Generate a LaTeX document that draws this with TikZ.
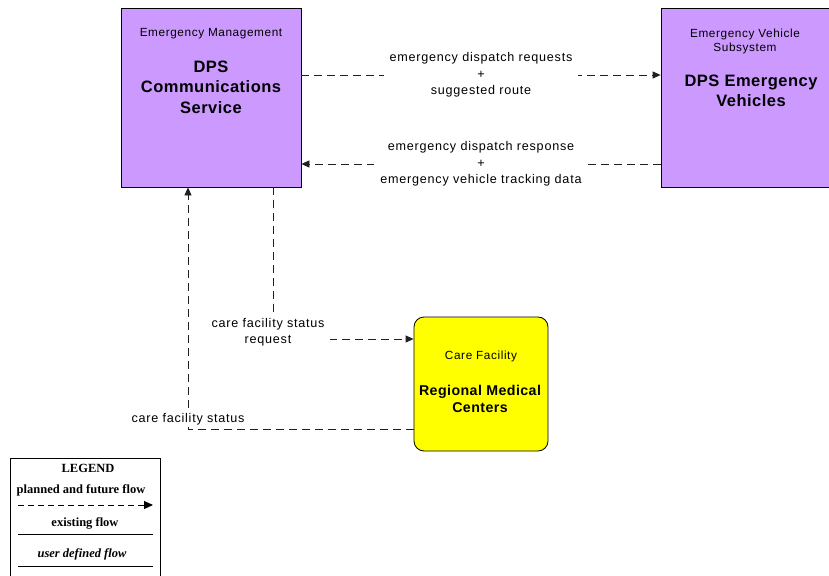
\documentclass[tikz,border=0pt]{standalone}
\usepackage{fontspec}
\setmainfont{Liberation Sans}
\newfontfamily\legendfont{Liberation Serif}
\usetikzlibrary{arrows.meta}
\definecolor{sysviolet}{HTML}{CC99FF}
\definecolor{careyellow}{HTML}{FFFF00}
\definecolor{flowgray}{HTML}{202020}
\newcommand{\smalltxt}{\fontsize{12.6}{16.5}\selectfont\addfontfeatures{LetterSpace=6}}
\newcommand{\headtxt}{\fontsize{11.8}{14}\selectfont\addfontfeatures{LetterSpace=5}}
\newcommand{\titletxt}{\fontsize{16.5}{20.5}\selectfont\bfseries\addfontfeatures{LetterSpace=3}}
\tikzset{
  x=1pt, y=-1pt,
  sysbox/.style={draw=black, line width=0.8pt, fill=sysviolet, inner sep=0pt},
  carebox/.style={draw=black, line width=0.8pt, fill=careyellow, rounded corners=10pt, inner sep=0pt},
  headlabel/.style={font=\headtxt, align=center, inner sep=0pt},
  titlelabel/.style={font=\titletxt, align=center, inner sep=0pt},
  flow/.style={draw=flowgray, line width=0.8pt, dash pattern=on 8pt off 5pt, -{Triangle[length=8pt,width=7pt]}},
  flowlabel/.style={font=\smalltxt, align=center, fill=white, inner ysep=2pt, inner xsep=6pt},
  legendtext/.style={font=\legendfont\fontsize{12.5}{13}\selectfont\bfseries, inner sep=0pt}
}
\begin{document}
\begin{tikzpicture}
\useasboundingbox (0,0) rectangle (829,575);
\fill[white] (0,0) rectangle (829,575);

% DPS Communications Service
\node[sysbox, minimum width=180pt, minimum height=179pt] (dps) at (211,97.5) {};
\node[headlabel] (dpshead) at (211,34) {Emergency Management};
\node[titlelabel] (dpstitle) at (211,87) {DPS\\Communications\\Service};

% DPS Emergency Vehicles
\node[sysbox, minimum width=168pt, minimum height=179pt] (ev) at (745,97.5) {};
\node[headlabel] (evhead) at (745,41) {Emergency Vehicle\\Subsystem};
\node[titlelabel] (evtitle) at (751,91) {DPS Emergency\\Vehicles};

% Regional Medical Centers
\node[carebox, minimum width=134pt, minimum height=134pt] (rmc) at (481,384) {};
\node[headlabel] (rmchead) at (481,356) {Care Facility};
\node[titlelabel, font=\fontsize{14.2}{17}\selectfont\bfseries\addfontfeatures{LetterSpace=3}] (rmctitle) at (480,398.5) {Regional Medical\\Centers};

% flows
\draw[flow] ([yshift=22.5pt]dps.east) -- node[flowlabel] (l1) {emergency dispatch requests\\+\\suggested route} ([yshift=22.5pt]ev.west);
\draw[flow] ([yshift=-66.5pt]ev.west) -- node[flowlabel] (l2) {emergency dispatch response\\+\\emergency vehicle tracking data} ([yshift=-66.5pt]dps.west -| dps.east);
\draw[flow] ([xshift=62pt]dps.south) |- node[pos=0.5, flowlabel, xshift=-5pt, yshift=7pt] (l3) {care facility status\\request} ([yshift=45pt]rmc.west);
\draw[flow] ([yshift=-45pt]rmc.west) -| node[pos=0.5, flowlabel, yshift=10pt] (l4) {care facility status} ([xshift=-23pt]dps.south);

% legend
\node[draw=black, line width=1pt, minimum width=150pt, minimum height=124pt, inner sep=0pt] (legend) at (85,520) {};
\node[legendtext] (lgtitle) at (88,468) {LEGEND};
\node[legendtext] (lgplanned) at (81,490) {planned and future flow};
\coordinate (lpa) at (18,505);
\coordinate (lpb) at (153,505);
\draw[black, line width=1pt, dash pattern=on 6pt off 4pt, -{Triangle[length=9pt,width=8pt]}] (lpa) -- (lpb);
\node[legendtext] (lgexist) at (85,523) {existing flow};
\coordinate (lea) at (18,534);
\coordinate (leb) at (153,534);
\draw[black, line width=1pt] (lea) -- (leb);
\node[legendtext, font=\legendfont\fontsize{12.5}{13}\selectfont\bfseries\itshape] (lguser) at (82,554) {user defined flow};
\coordinate (lua) at (18,566);
\coordinate (lub) at (153,566);
\draw[black, line width=1pt] (lua) -- (lub);
\end{tikzpicture}
\end{document}
